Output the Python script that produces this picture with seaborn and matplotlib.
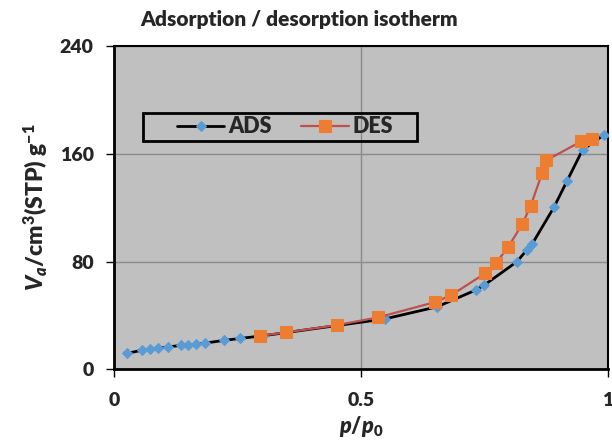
import matplotlib
matplotlib.use("Agg")
import matplotlib.pyplot as plt
from matplotlib.patches import Rectangle
import seaborn as sns
import pandas as pd

# Adsorption branch: relative pressure and adsorbed volume
ads_p = [0.025, 0.056, 0.073, 0.089, 0.109, 0.134, 0.150, 0.165, 0.184, 0.223,
         0.254, 0.301, 0.548, 0.654, 0.733, 0.750, 0.816, 0.836, 0.847, 0.891,
         0.917, 0.949, 0.992]
ads_v = [11.9, 14.3, 14.9, 15.6, 16.8, 17.8, 18.1, 18.6, 19.6, 21.6,
         23.0, 25.0, 37.5, 46.5, 59.0, 62.7, 80.0, 88.7, 93.2, 120.4,
         139.5, 163.0, 174.0]

# Desorption branch
des_p = [0.296, 0.348, 0.451, 0.535, 0.650, 0.682, 0.752, 0.773, 0.798, 0.827,
         0.844, 0.867, 0.875, 0.946, 0.968]
des_v = [25.0, 27.5, 32.9, 38.7, 50.0, 55.0, 71.4, 78.8, 90.7, 108.0,
         121.6, 145.7, 155.1, 169.2, 171.0]

x_ticks = [0, 0.5, 1]
x_ticklabels = ["0", "0.5", "1"]
y_ticks = [0, 80, 160, 240]

sns.set_theme(style="white")
plt.rcParams["font.family"] = ["Lato", "DejaVu Sans"]
plt.rcParams["mathtext.fontset"] = "custom"
plt.rcParams["mathtext.rm"] = "Lato:heavy"
plt.rcParams["mathtext.it"] = "Lato:heavy:italic"
plt.rcParams["mathtext.bf"] = "Lato:heavy"

W = "heavy"

ads = pd.DataFrame({"p": ads_p, "v": ads_v})
des = pd.DataFrame({"p": des_p, "v": des_v})

fig = plt.figure(figsize=(6.12, 4.43), dpi=100)
ax = fig.add_axes([0.187, 0.166, 0.806, 0.730])
ax.set_facecolor("#C0C0C0")

sns.lineplot(data=ads, x="p", y="v", ax=ax, sort=False, color="black",
             linewidth=2.0, marker="D", markersize=5.5,
             markerfacecolor="#5B9BD5", markeredgecolor="#5B9BD5",
             label="ADS", zorder=3)
sns.lineplot(data=des, x="p", y="v", ax=ax, sort=False, color="#C0504D",
             linewidth=1.6, marker="s", markersize=9,
             markerfacecolor="#ED7D31", markeredgecolor="#ED7D31",
             label="DES", zorder=4)

ax.set_xlim(0, 1)
ax.set_ylim(0, 240)
ax.set_xticks(x_ticks)
ax.set_xticklabels(x_ticklabels)
ax.set_yticks(y_ticks)

ax.grid(True, color="#8A8A8A", linewidth=1.0)
ax.set_axisbelow(True)

for side in ["left", "bottom"]:
    ax.spines[side].set_linewidth(2.0)
for side in ["top", "right"]:
    ax.spines[side].set_linewidth(1.5)
for s in ax.spines.values():
    s.set_color("black")
    s.set_visible(True)

ax.tick_params(axis="both", which="major", direction="out", length=6,
               width=1.0, color="black", labelsize=14, bottom=True, left=True)
for lbl in ax.get_xticklabels() + ax.get_yticklabels():
    lbl.set_fontweight(W)
ax.tick_params(axis="x", pad=10)
ax.tick_params(axis="y", pad=9)

ax.set_xlabel(r"$\mathit{p}/\mathit{p}_\mathrm{0}$", fontsize=15.5, labelpad=4)
ax.set_ylabel(r"$\mathit{V_a}$/cm$^\mathrm{3}$(STP) g$^\mathrm{-1}$",
              fontsize=16.5, fontweight=W, labelpad=7)

fig.text(0.488, 0.957, "Adsorption / desorption isotherm", ha="center",
         va="center", fontsize=15, fontweight=W)

# legend frame drawn as its own box, entries placed inside it
ax.add_patch(Rectangle((0.058, 0.706), 0.555, 0.087, transform=ax.transAxes,
                       facecolor="none", edgecolor="black", linewidth=2.0,
                       zorder=5))
ax.legend(loc="center left", bbox_to_anchor=(0.127, 0.750), ncol=2,
          frameon=False, handlelength=2.2, columnspacing=1.35, borderpad=0,
          borderaxespad=0, handletextpad=0.2,
          prop={"weight": W, "size": 15.5})

fig.savefig("out.png", dpi=100, facecolor="white")
